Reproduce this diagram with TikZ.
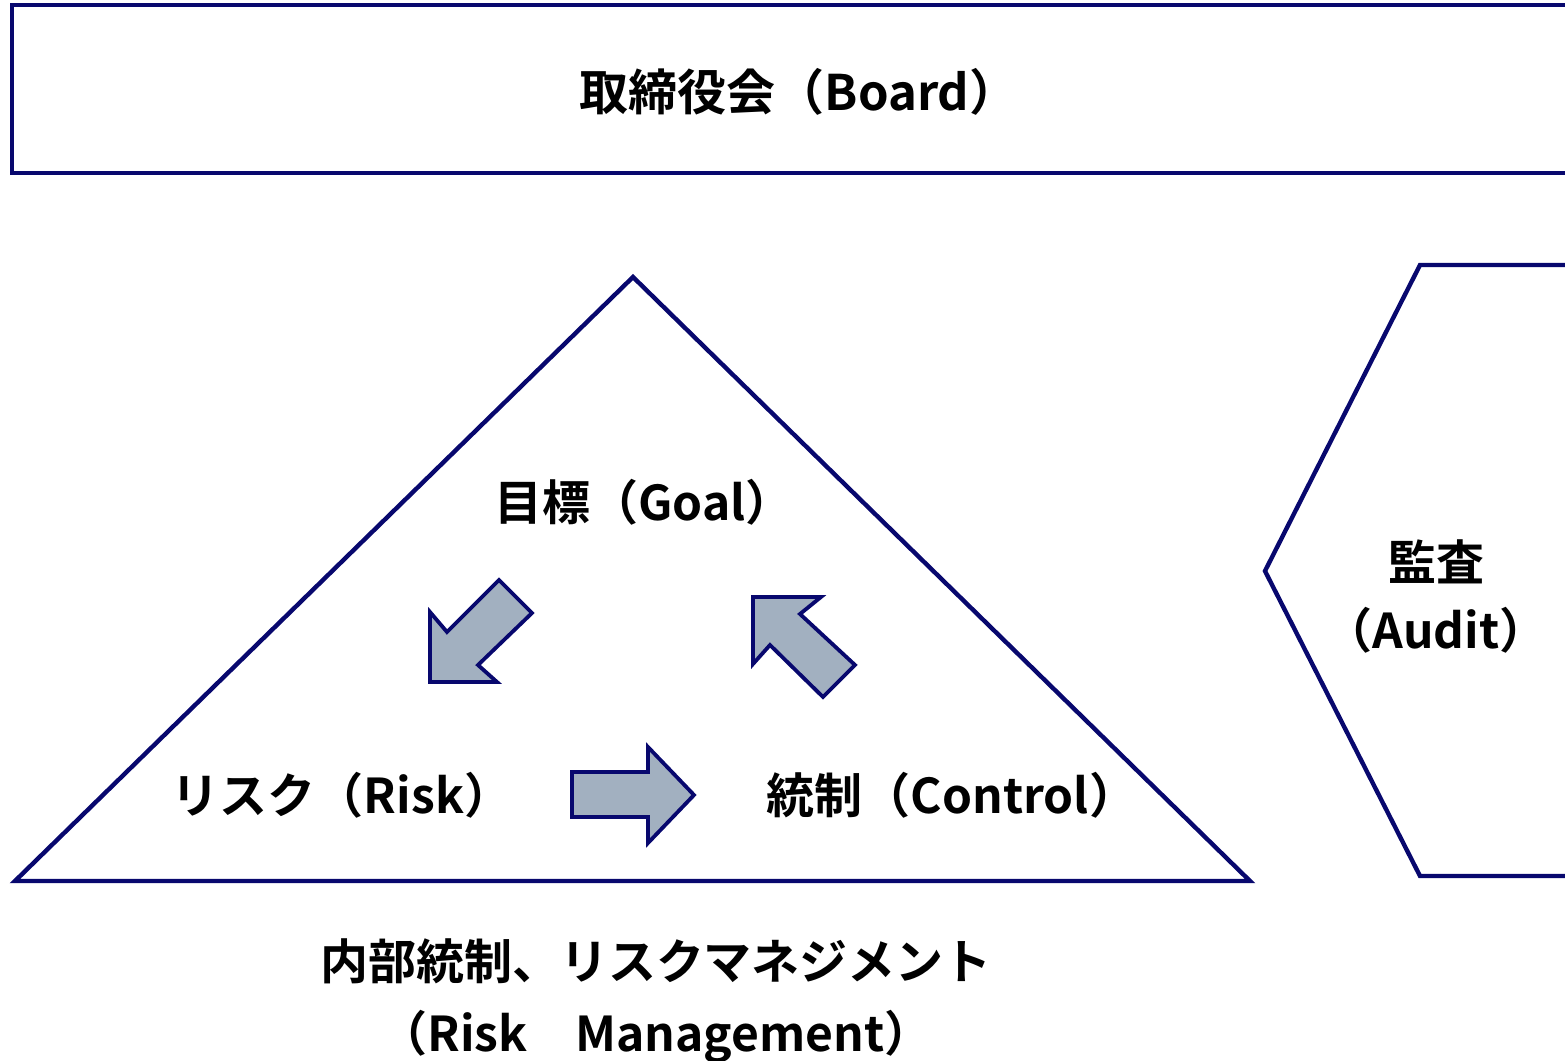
\documentclass[tikz,border=0pt]{standalone}
\usepackage{fontspec}
\setmainfont{Noto Sans CJK JP}[BoldFont={Noto Sans CJK JP Bold}]
\definecolor{navy}{RGB}{8,8,110}
\definecolor{arrowfill}{RGB}{162,176,192}
\tikzset{
  outline/.style={draw=navy,line width=2.2pt,line join=miter},
  fatarrow/.style={draw=navy,fill=arrowfill,line width=1.9pt,line join=miter},
  lbl/.style={font=\fontsize{24}{34}\selectfont\bfseries,text=black,inner sep=0pt,align=center}
}
\begin{document}
\begin{tikzpicture}[x=0.5pt,y=-0.5pt]
\useasboundingbox (0,0) rectangle (1565,1061);
% Board
\draw[outline] (1580,5) -- (12,5) -- (12,173) -- (1580,173);
\node[lbl,font=\fontsize{24.5}{34}\selectfont\bfseries] (board) at (799,92) {取締役会（Board）};
% Triangle
\draw[outline] (633,277) -- (1250,881) -- (15,881) -- cycle;
% Hexagon (audit)
\draw[outline] (1580,265) -- (1420,265) -- (1265,571) -- (1420,876) -- (1580,876);
\node[lbl] (audit) at (1436,596) {監査\\（Audit）};
% Labels
\node[lbl] (goal) at (644,502) {目標（Goal）};
\node[lbl] (risk) at (342,795) {リスク（Risk）};
\node[lbl] (control) at (952,795) {統制（Control）};
\node[lbl,font=\fontsize{24}{36}\selectfont\bfseries] (rm) at (656,1001) {内部統制、リスクマネジメント\\（Risk　Management）};
% Fat arrows
\draw[fatarrow] (430,682) -- (430,612) -- (447,632) -- (499,580) -- (532,613) -- (478,665) -- (497,682) -- cycle;
\draw[fatarrow] (753,597) -- (821,597) -- (800,614) -- (855,665) -- (823,697) -- (770,645) -- (753,664) -- cycle;
\draw[fatarrow] (572,772) -- (648,772) -- (648,747) -- (694,795) -- (648,843) -- (648,817) -- (572,817) -- cycle;
\end{tikzpicture}
\end{document}
